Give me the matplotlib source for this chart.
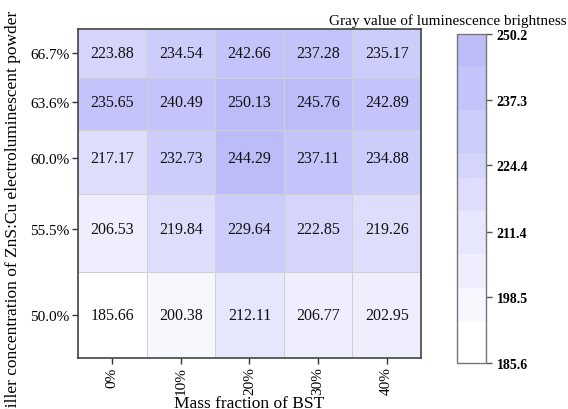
import numpy as np
import matplotlib
matplotlib.use("Agg")
import matplotlib.pyplot as plt
from matplotlib.colors import LinearSegmentedColormap, BoundaryNorm

plt.rcParams['font.family'] = ['Liberation Serif', 'DejaVu Serif']

bst = [0, 10, 20, 30, 40]
bst_labels = ['0%', '10%', '20%', '30%', '40%']
filler = [50.0, 55.5, 60.0, 63.6, 66.7]
filler_labels = ['50.0%', '55.5%', '60.0%', '63.6%', '66.7%']

row_500 = [185.66, 200.38, 212.11, 206.77, 202.95]
row_555 = [206.53, 219.84, 229.64, 222.85, 219.26]
row_600 = [217.17, 232.73, 244.29, 237.11, 234.88]
row_636 = [235.65, 240.49, 250.13, 245.76, 242.89]
row_667 = [223.88, 234.54, 242.66, 237.28, 235.17]

vmin, vmax = 185.6, 250.2
cbar_ticks = [185.6, 198.5, 211.4, 224.4, 237.3, 250.2]
levels = [185.6, 193.9, 200.4, 207.1, 215.5, 222.0, 226.8, 235.2, 243.7, 250.2]

Z = np.array([row_500, row_555, row_600, row_636, row_667])

cmap = LinearSegmentedColormap.from_list('wb', ['#ffffff', '#bcbcf9'])
norm = BoundaryNorm(levels, ncolors=256)

fig = plt.figure(figsize=(5.68, 4.10), dpi=100)
ax = fig.add_axes([0.1373, 0.1244, 0.6039, 0.8024])
cax = fig.add_axes([0.8046, 0.1122, 0.0511, 0.8024])

mesh = ax.pcolormesh(bst, filler, Z, cmap=cmap, norm=norm, shading='nearest',
                     edgecolors='#d0d0d0', linewidth=0.6)

for i, y in enumerate(filler):
    for j, x in enumerate(bst):
        ax.text(x, y, f"{Z[i, j]:.2f}", ha='center', va='center', fontsize=11.5, color='#111111')

ax.set_xticks(bst)
ax.set_xticklabels(bst_labels, rotation=90, fontsize=11)
ax.set_yticks(filler)
ax.set_yticklabels(filler_labels, fontsize=11)
ax.tick_params(direction='out', length=4, width=1, color='#333333', pad=2)
for s in ax.spines.values():
    s.set_color('#444444')
    s.set_linewidth(1.2)

ax.set_xlabel('Mass fraction of BST', fontsize=12.5)
ax.xaxis.set_label_coords(0.5, -0.112)
ax.set_ylabel('Filler concentration of ZnS:Cu electroluminescent powder', fontsize=12.5)
ax.yaxis.set_label_coords(-0.165, 0.44)

cb = fig.colorbar(mesh, cax=cax, ticks=cbar_ticks, spacing='proportional')
cb.minorticks_off()
cb.ax.set_yticklabels([f"{t:.1f}" for t in cbar_ticks], fontsize=10, fontweight='bold')
cb.ax.tick_params(direction='out', length=4, width=1, color='#555555')
cb.outline.set_edgecolor('#777777')
cb.outline.set_linewidth(1.0)
cb.ax.set_ylim(vmin, vmax)

fig.text(0.998, 0.94, 'Gray value of luminescence brightness', ha='right', va='baseline', fontsize=11)

fig.savefig('out.png', dpi=100)
